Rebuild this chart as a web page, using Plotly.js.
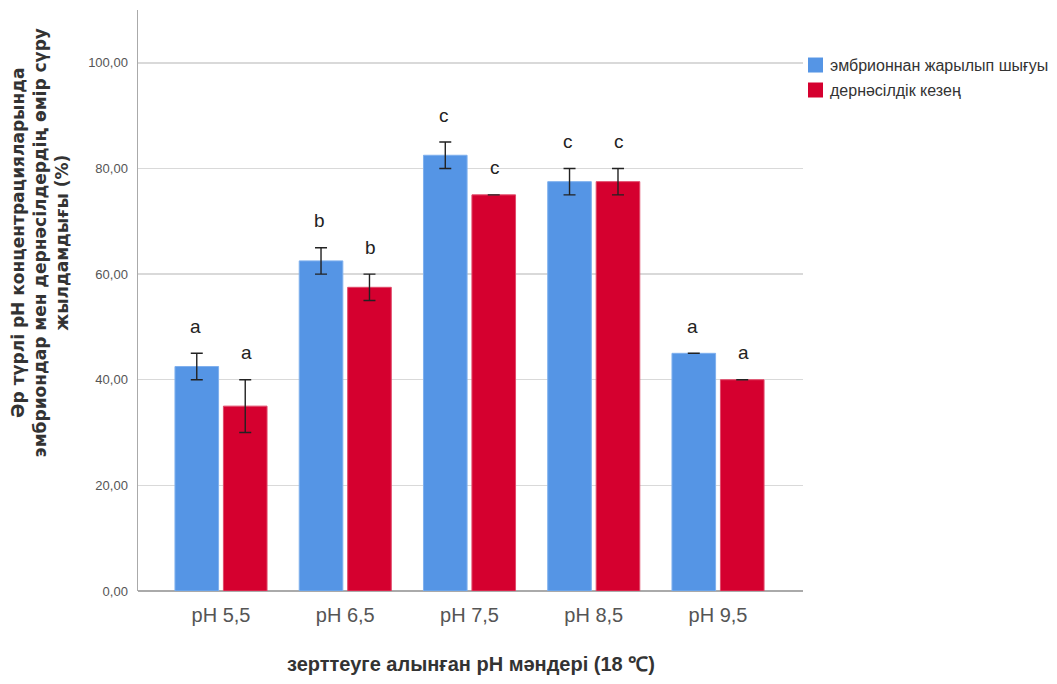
<!DOCTYPE html>
<html>
<head>
<meta charset="utf-8">
<script src="https://cdn.plot.ly/plotly-3.0.1.min.js"></script>
<style>
  html, body { margin: 0; padding: 0; background: #fff; }
  #chart { width: 1057px; height: 684px; }
</style>
</head>
<body>
<div id="chart"></div>
<script>
// pH levels tested
const categories = ['pH 5,5', 'pH 6,5', 'pH 7,5', 'pH 8,5', 'pH 9,5'];

// Hatching from the embryo (%)
const hatchValues = [42.5, 62.5, 82.5, 77.5, 45.0];
const hatchErrors = [2.5, 2.5, 2.5, 2.5, 0];
const hatchLetters = ['a', 'b', 'c', 'c', 'a'];

// Larval stage (%)
const larvaValues = [35.0, 57.5, 75.0, 77.5, 40.0];
const larvaErrors = [5.0, 2.5, 0, 2.5, 0];
const larvaLetters = ['a', 'b', 'c', 'c', 'a'];

const seriesNames = ['эмбрионнан жарылып шығуы', 'дернәсілдік кезең'];
const yTicks = [0, 20, 40, 60, 80, 100];

const FONT = 'Liberation Sans, Arial, sans-serif';
const WIDE = 'DejaVu Sans, Liberation Sans, sans-serif';
const BLUE = '#5595e5';
const RED = '#d5002f';
const colors = [BLUE, RED];

const errStyle = { type: 'data', visible: true, color: '#222', thickness: 1.4, width: 6 };

const xIdx = categories.map((_, i) => i);

const traces = [
  {
    type: 'bar', name: seriesNames[0], x: xIdx, y: hatchValues, hovertext: categories,
    marker: { color: BLUE, line: { color: '#7fb0ee', width: 1 } },
    error_y: Object.assign({ array: hatchErrors }, errStyle)
  },
  {
    type: 'bar', name: seriesNames[1], x: xIdx, y: larvaValues, hovertext: categories,
    marker: { color: RED, line: { color: '#e04a6a', width: 1 } },
    error_y: Object.assign({ array: larvaErrors }, errStyle)
  }
];

const annotations = [];

// Significance letters above each error bar
const groups = [
  { vals: hatchValues, errs: hatchErrors, letters: hatchLetters, shift: -25.5 },
  { vals: larvaValues, errs: larvaErrors, letters: larvaLetters, shift: 25.5 }
];
groups.forEach(g => {
  categories.forEach((c, i) => {
    annotations.push({
      x: i, y: g.vals[i] + g.errs[i], xref: 'x', yref: 'y',
      text: g.letters[i], showarrow: false,
      xshift: g.shift, yshift: 27, yanchor: 'middle',
      font: { family: FONT, size: 19, color: '#222' }
    });
  });
});

// Axis titles
annotations.push({
  xref: 'paper', yref: 'paper', x: 0.5, y: -0.1256, xanchor: 'center', yanchor: 'middle',
  showarrow: false,
  text: '<b>зерттеуге алынған pH мәндері (18 ℃)</b>',
  font: { family: FONT, size: 20, color: '#333' }
});
annotations.push({
  xref: 'paper', yref: 'paper', x: -0.1474, y: 0.6, xanchor: 'center', yanchor: 'middle',
  showarrow: false, textangle: -90,
  text: '<b>Әр түрлі pH концентрацияларында<br>эмбриондар мен дернәсілдердің өмір сүру<br>жылдамдығы (%)</b>',
  font: { family: WIDE, size: 17, color: '#333' }
});

// Legend drawn as swatches and labels to the right of the plot
const shapes = [];
const legendY = [0.9053, 0.8623];
seriesNames.forEach((name, k) => {
  shapes.push({
    type: 'rect', xref: 'paper', yref: 'paper',
    xsizemode: 'pixel', ysizemode: 'pixel',
    xanchor: 1, yanchor: legendY[k],
    x0: 5, x1: 20, y0: -7.5, y1: 7.5,
    fillcolor: colors[k], line: { width: 0 }
  });
  annotations.push({
    xref: 'paper', yref: 'paper', x: 1.0376, y: legendY[k],
    xanchor: 'left', yanchor: 'middle', showarrow: false,
    text: name, font: { family: FONT, size: 16, color: '#333' }
  });
});

const layout = {
  width: 1057, height: 684,
  margin: { l: 138, r: 254, t: 10, b: 93 },
  paper_bgcolor: '#fff', plot_bgcolor: '#fff',
  separators: ',.',
  barmode: 'group', bargap: 0.22, bargroupgap: 0.1,
  showlegend: false,
  xaxis: {
    type: 'linear',
    tickmode: 'array', tickvals: xIdx, ticktext: categories,
    range: [-0.668, 4.684],
    showgrid: false, zeroline: false, showline: false,
    ticks: 'outside', ticklen: 6, tickcolor: 'rgba(0,0,0,0)',
    tickfont: { family: FONT, size: 20, color: '#555' }
  },
  yaxis: {
    range: [0, 110],
    tickmode: 'array', tickvals: yTicks, tickformat: '.2f',
    showgrid: true, gridcolor: '#d9d9d9', gridwidth: 1.5,
    zeroline: true, zerolinecolor: '#aaa', zerolinewidth: 1.5,
    showline: true, linecolor: '#aaa', linewidth: 1.5,
    ticks: 'outside', ticklen: 6, tickcolor: 'rgba(0,0,0,0)',
    tickfont: { family: FONT, size: 13, color: '#555' }
  },
  shapes: shapes,
  annotations: annotations
};

Plotly.newPlot('chart', traces, layout, { displayModeBar: false, staticPlot: true });
</script>
</body>
</html>
